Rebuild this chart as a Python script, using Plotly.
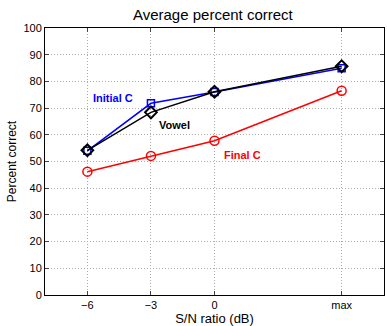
import plotly.graph_objects as go

x_pos = [-6, -3, 0, 6]
x_labels = ["\u22126", "\u22123", "0", "max"]
initial_c = [54.0, 71.8, 76.0, 84.9]
vowel = [54.2, 68.4, 76.1, 85.7]
final_c = [46.2, 52.1, 57.8, 76.5]

fig = go.Figure()
fig.add_trace(go.Scatter(x=x_pos, y=initial_c, mode="lines+markers", name="Initial C",
                         line=dict(color="#0000ff", width=1.5),
                         marker=dict(symbol="square-open", size=7, color="#0000ff", line=dict(width=1.5))))
fig.add_trace(go.Scatter(x=x_pos, y=vowel, mode="lines+markers", name="Vowel",
                         line=dict(color="#000000", width=1.5),
                         marker=dict(symbol="diamond-open", size=9, color="#000000", line=dict(width=2))))
fig.add_trace(go.Scatter(x=x_pos, y=final_c, mode="lines+markers", name="Final C",
                         line=dict(color="#ff0000", width=1.5),
                         marker=dict(symbol="circle-open", size=9, color="#ff0000", line=dict(width=1.5))))

fig.add_annotation(x=-5.81, y=73.8, text="<b>Initial C</b>", showarrow=False, xanchor="left",
                   font=dict(color="#0000ff", size=11))
fig.add_annotation(x=-2.72, y=63.7, text="<b>Vowel</b>", showarrow=False, xanchor="left",
                   font=dict(color="#000000", size=11))
fig.add_annotation(x=0.375, y=52.5, text="<b>Final C</b>", showarrow=False, xanchor="left",
                   font=dict(color="#ff0000", size=11))

fig.update_layout(
    width=387, height=326,
    margin=dict(l=45, r=3, t=28, b=31),
    paper_bgcolor="white", plot_bgcolor="white",
    font=dict(family="Liberation Sans, Arial, sans-serif", size=11, color="#000000"),
    showlegend=False,
    title=dict(text="Average percent correct", x=0.55, xanchor="center",
               yref="container", y=1 - 14.5 / 326, yanchor="middle",
               font=dict(size=15)),
)
fig.update_xaxes(range=[-8, 8], tickvals=x_pos, ticktext=x_labels, ticks="inside", ticklen=4,
                 showline=True, linecolor="black", linewidth=1, mirror="ticks",
                 showgrid=True, gridcolor="#aaaaaa", griddash="1px,2px", gridwidth=1, zeroline=False,
                 title=dict(text="S/N ratio (dB)", standoff=2), tickfont=dict(size=11))
fig.update_yaxes(range=[0, 100], dtick=10, ticks="inside", ticklen=4,
                 showline=True, linecolor="black", linewidth=1, mirror="ticks",
                 showgrid=True, gridcolor="#aaaaaa", griddash="1px,2px", gridwidth=1, zeroline=False,
                 title=dict(text="Percent correct", standoff=4, font=dict(size=12)), tickfont=dict(size=11))

fig.write_html("out.html")
